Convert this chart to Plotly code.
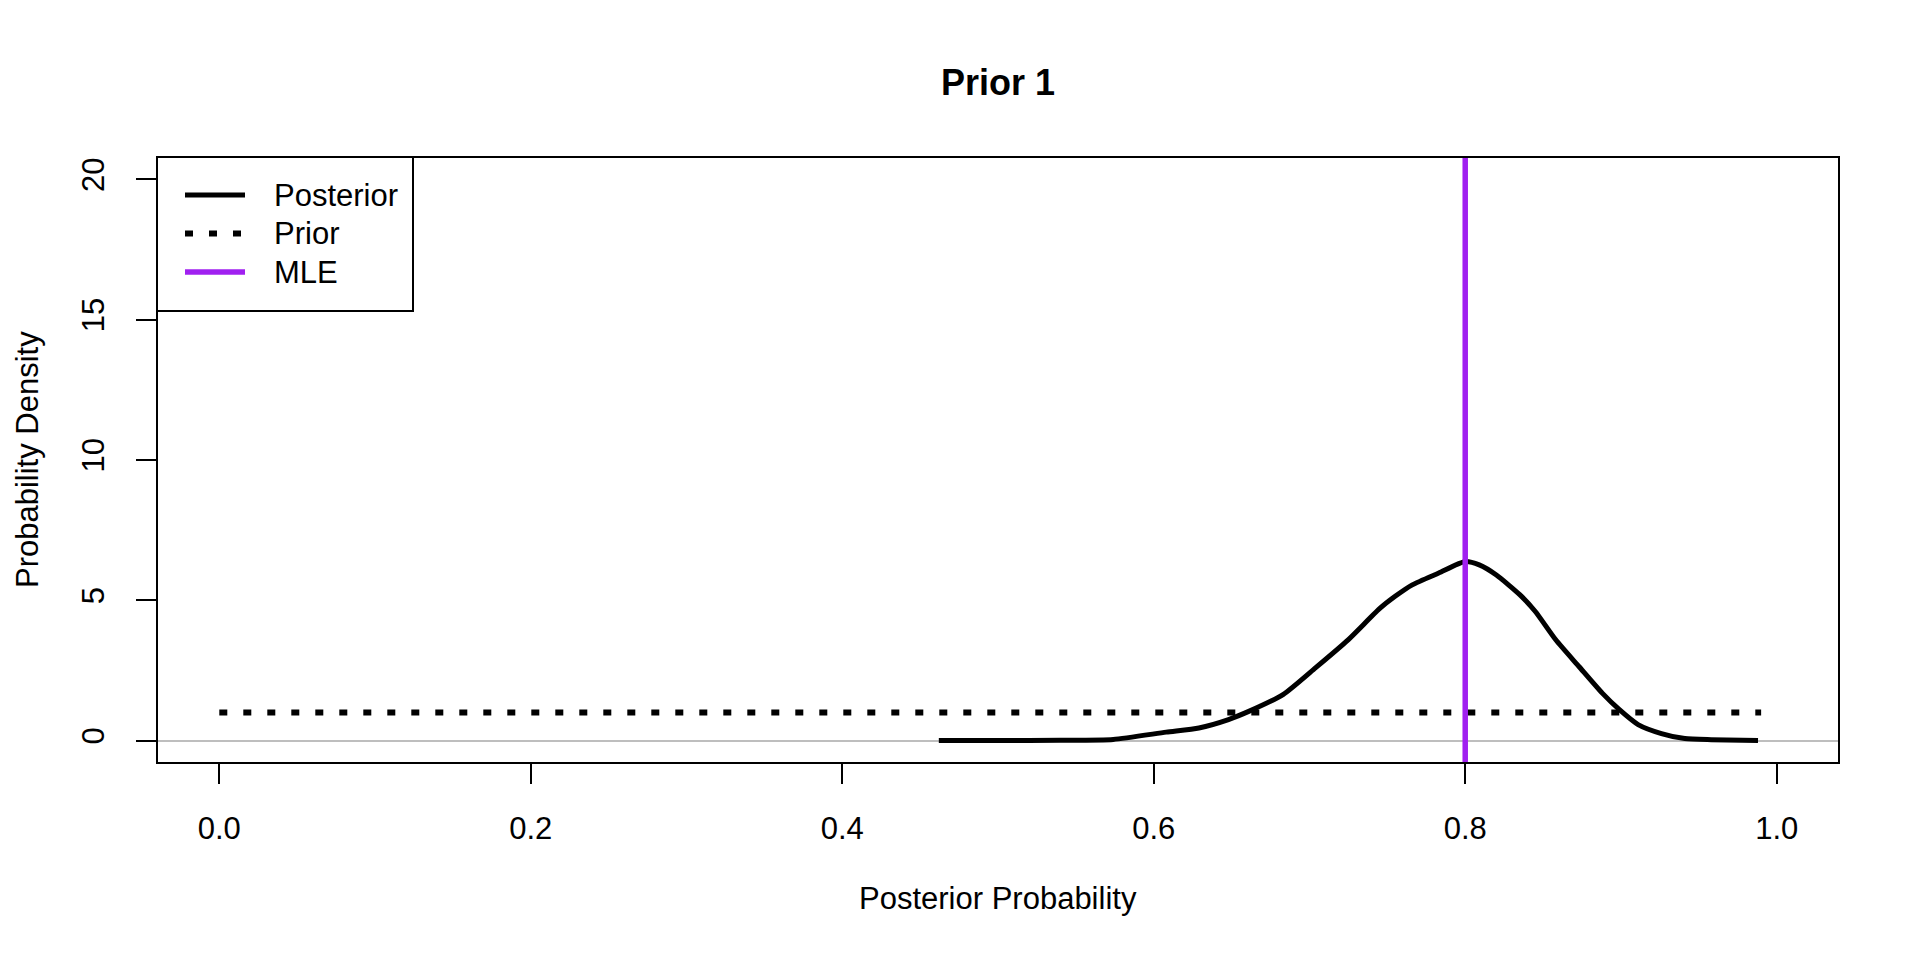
import plotly.graph_objects as go

# posterior density
post_x = [0.462, 0.50, 0.54, 0.574, 0.608, 0.629, 0.648, 0.661, 0.683, 0.704,
          0.725, 0.745, 0.755, 0.766, 0.783, 0.800, 0.809, 0.820, 0.835, 0.845,
          0.858, 0.873, 0.888, 0.899, 0.911, 0.926, 0.941, 0.958, 0.988]
post_y = [0.0, 0.0, 0.01, 0.04, 0.30, 0.45, 0.75, 1.04, 1.64, 2.60,
          3.60, 4.70, 5.14, 5.55, 5.97, 6.38, 6.26, 5.90, 5.20, 4.60,
          3.60, 2.64, 1.69, 1.10, 0.57, 0.25, 0.07, 0.03, 0.0]

# flat prior
prior_x = [0.0, 0.99]
prior_y = [1, 1]

mle = 0.8

x_ticks = [0.0, 0.2, 0.4, 0.6, 0.8, 1.0]
y_ticks = [0, 5, 10, 15, 20]

legend_names = ["Posterior", "Prior", "MLE"]

FONT = "Liberation Sans, Arial, sans-serif"
W, H = 1920, 960
L, R, T, B = 157, 81, 157, 197
PW, PH = W - L - R, H - T - B

DOTS = "8px,16px"
PURPLE = "#A020F0"


def px(x):
    return (x - L) / PW


def py(y):
    return (H - B - y) / PH


fig = go.Figure()

fig.add_trace(go.Scatter(
    x=prior_x, y=prior_y, mode="lines",
    line=dict(color="black", width=6, dash=DOTS),
    hoverinfo="skip"))

fig.add_trace(go.Scatter(
    x=post_x, y=post_y, mode="lines",
    line=dict(color="black", width=5, shape="spline", smoothing=0.6),
    hoverinfo="skip"))

fig.add_vline(x=mle, line=dict(color=PURPLE, width=5.5))

# box round the plot
fig.add_shape(type="rect", xref="paper", yref="paper", x0=0, x1=1, y0=0, y1=1,
              line=dict(color="black", width=2))

# legend, drawn like R's legend()
fig.add_shape(type="rect", xref="paper", yref="paper",
              x0=px(157), x1=px(413), y0=py(311), y1=py(157),
              line=dict(color="black", width=2), fillcolor="white")
leg_styles = [dict(color="black", width=5),
              dict(color="black", width=6, dash=DOTS),
              dict(color=PURPLE, width=5.5)]
for i, (name, st) in enumerate(zip(legend_names, leg_styles)):
    yy = py(195 + i * 38.5)
    fig.add_shape(type="line", xref="paper", yref="paper",
                  x0=px(185), x1=px(245), y0=yy, y1=yy, line=st)
    fig.add_annotation(xref="paper", yref="paper", x=px(272), y=yy,
                       text=name, showarrow=False, xanchor="left",
                       yanchor="middle", font=dict(size=31, color="black"))

# titles
fig.add_annotation(xref="paper", yref="paper", x=0.5, y=1, yshift=75,
                   text="<b>Prior 1</b>", showarrow=False, yanchor="middle",
                   font=dict(size=36, color="black"))
fig.add_annotation(xref="paper", yref="paper", x=0.5, y=0, yshift=-135,
                   text="Posterior Probability", showarrow=False,
                   yanchor="middle", font=dict(size=31, color="black"))
fig.add_annotation(xref="paper", yref="paper", x=0, y=0.5, xshift=-130,
                   text="Probability Density", showarrow=False, textangle=-90,
                   xanchor="center", font=dict(size=31, color="black"))

fig.update_layout(
    width=W, height=H,
    margin=dict(l=L, r=R, t=T, b=B),
    paper_bgcolor="white", plot_bgcolor="white",
    font=dict(family=FONT, size=31, color="black"),
    showlegend=False,
    xaxis=dict(range=[-0.04, 1.04], tickvals=x_ticks, tickformat=".1f",
               showgrid=False, zeroline=False, showline=False,
               ticks="outside", ticklen=20, tickwidth=1.5, tickcolor="black",
               ticklabelstandoff=18),
    yaxis=dict(range=[-0.8, 20.8], tickvals=y_ticks, tickangle=-90,
               showgrid=False, zeroline=True, zerolinecolor="#BEBEBE",
               zerolinewidth=1.5, showline=False,
               ticks="outside", ticklen=20, tickwidth=1.5, tickcolor="black",
               ticklabelstandoff=20),
)

# the page body has a default 8px margin, drop it so the chart sits at 0,0
fig.write_html("out.html", config={"displayModeBar": False},
               post_script="document.body.style.margin='0';")
